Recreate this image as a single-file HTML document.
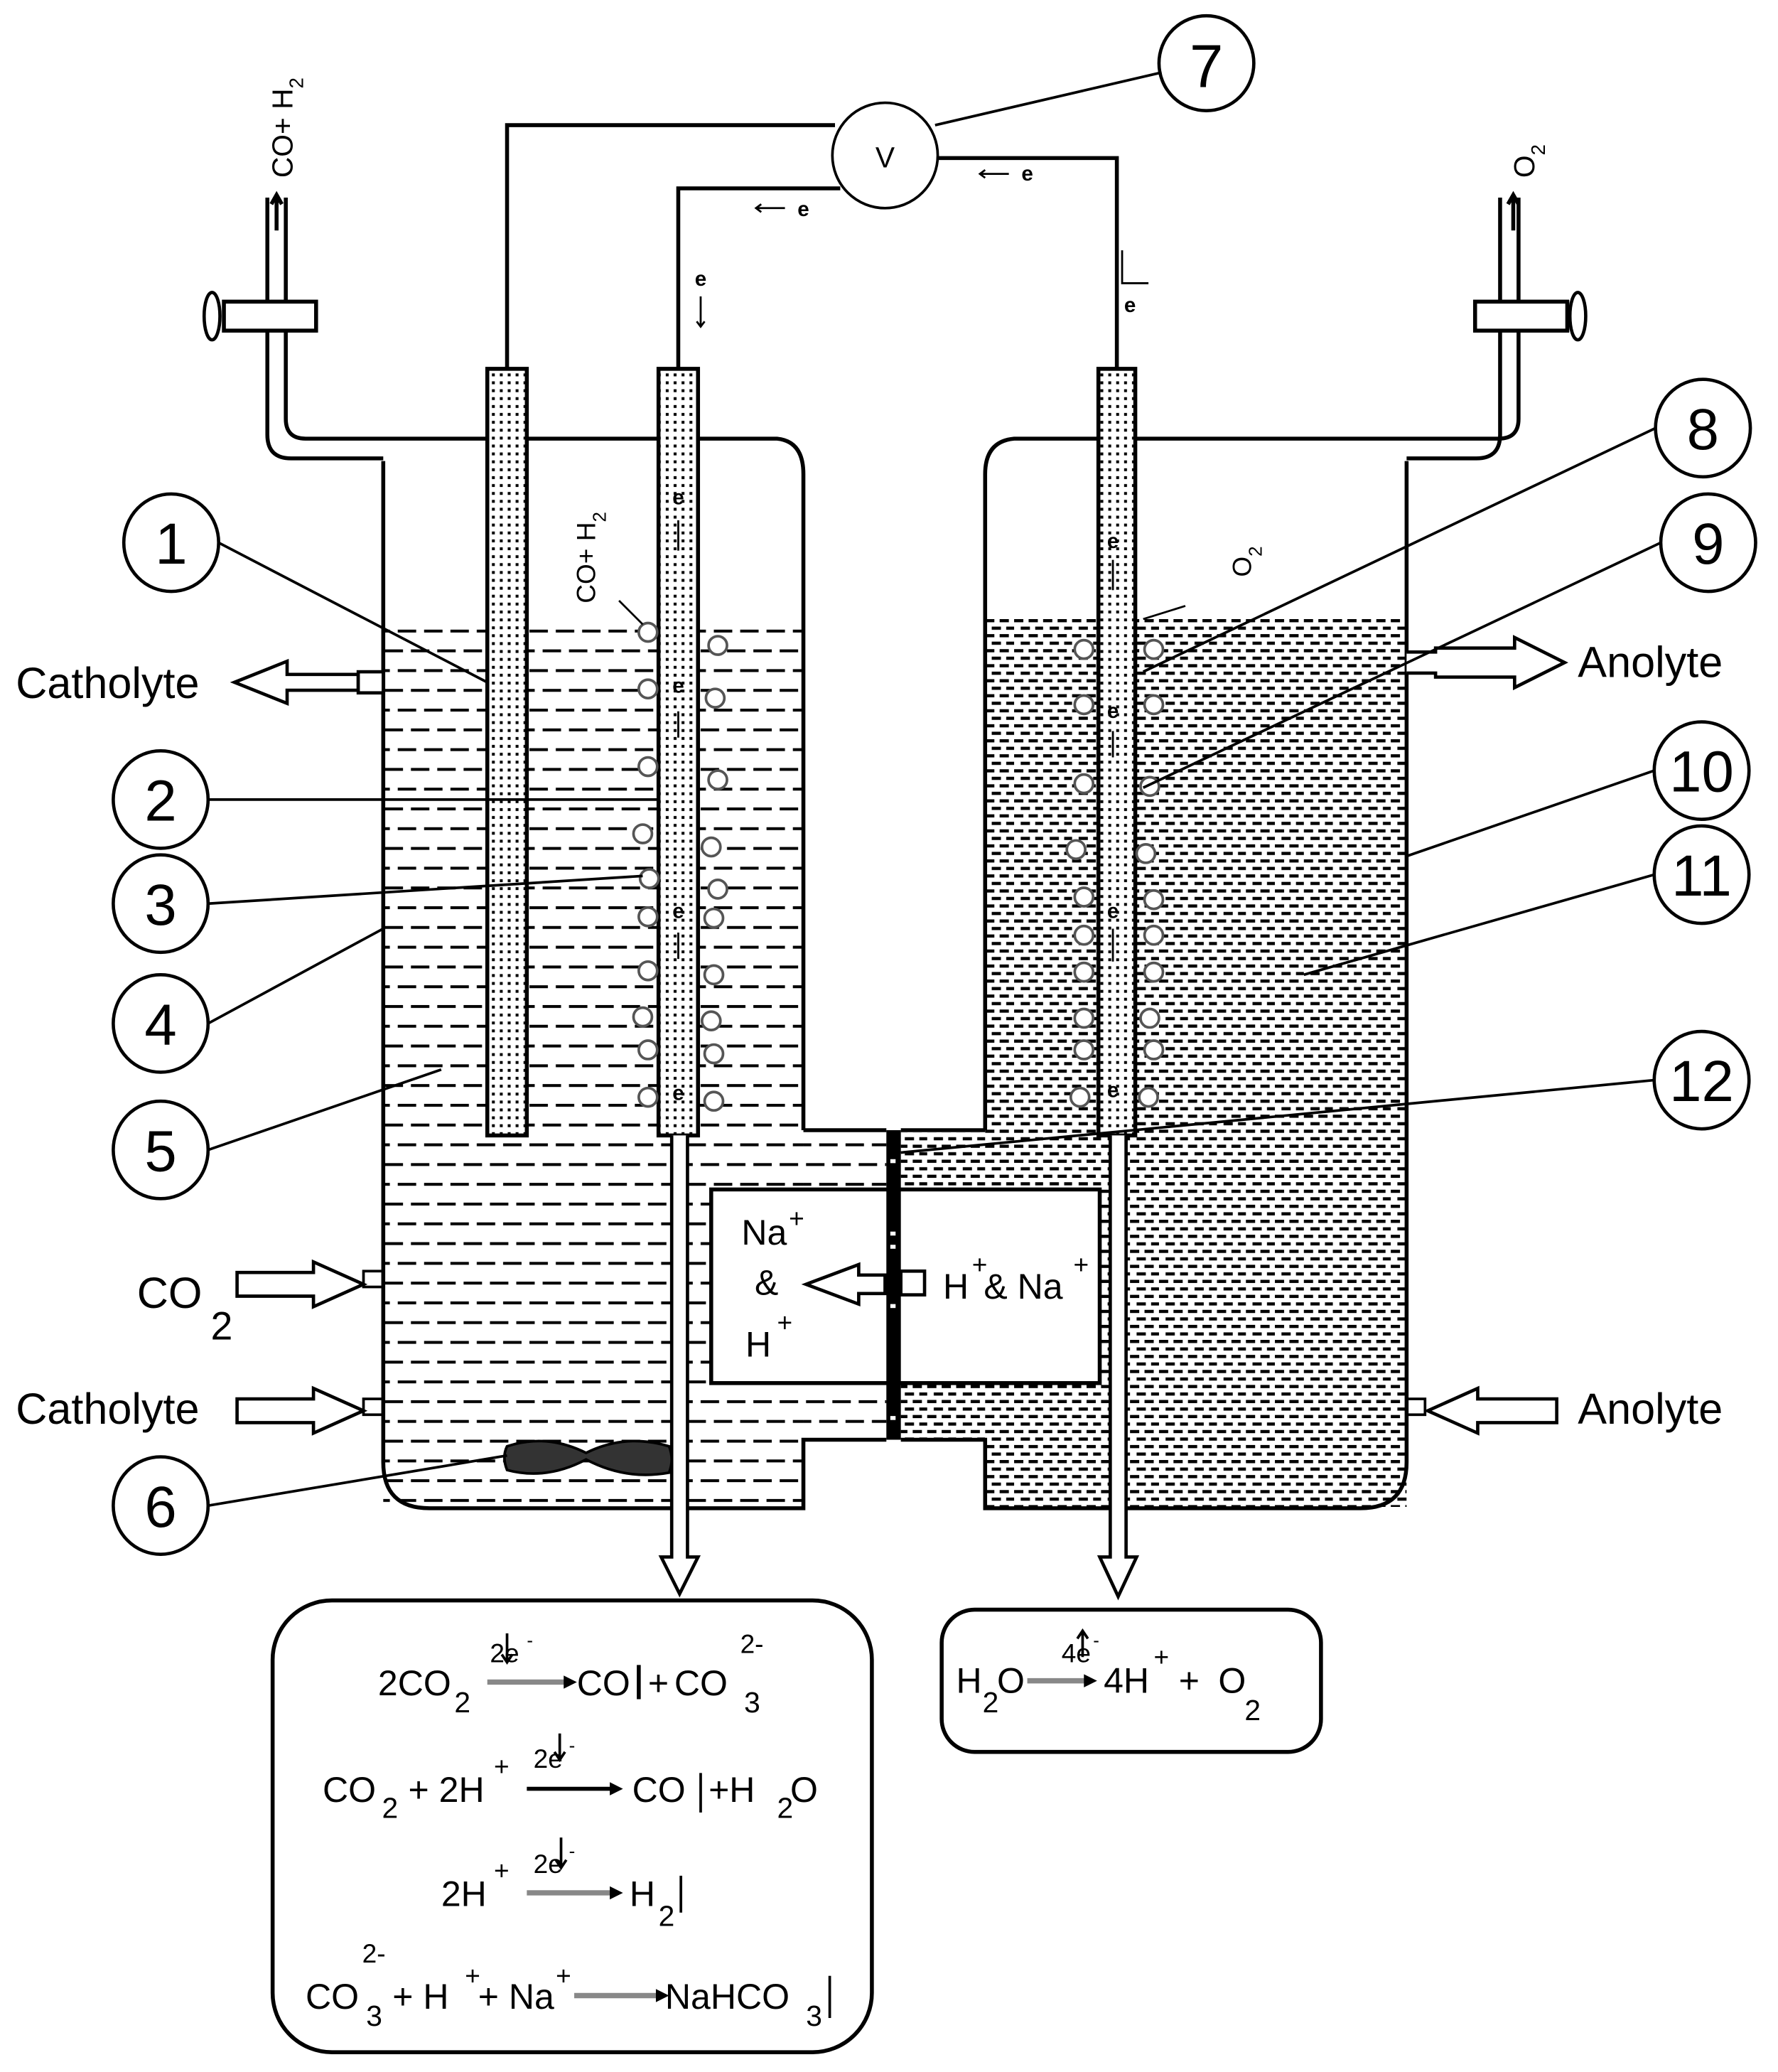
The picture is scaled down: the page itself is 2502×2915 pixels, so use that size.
<!DOCTYPE html>
<html><head><meta charset="utf-8"><style>
html,body{margin:0;padding:0;background:#fff}
svg{display:block}
text{font-family:"Liberation Sans",Arial,sans-serif;fill:#000}
</style></head><body>
<svg width="2502" height="2915" viewBox="0 0 1350 1573" preserveAspectRatio="none" xmlns="http://www.w3.org/2000/svg">
<defs>
<pattern id="cath" x="0" y="478" width="60" height="30" patternUnits="userSpaceOnUse">
<rect x="2" y="0" width="14" height="2.2" fill="#000"/><rect x="22" y="0" width="14" height="2.2" fill="#000"/><rect x="42" y="0" width="14" height="2.2" fill="#000"/>
<rect x="12" y="15" width="14" height="2.2" fill="#000"/><rect x="32" y="15" width="14" height="2.2" fill="#000"/><rect x="52" y="15" width="8" height="2.2" fill="#000"/><rect x="0" y="15" width="6" height="2.2" fill="#000"/>
</pattern>
<pattern id="anol" x="0" y="470" width="22" height="11.4" patternUnits="userSpaceOnUse">
<rect x="0" y="0" width="7" height="2.4" fill="#000"/><rect x="11" y="0" width="7" height="2.4" fill="#000"/>
<rect x="5" y="5.7" width="7" height="2.4" fill="#000"/><rect x="16" y="5.7" width="6" height="2.4" fill="#000"/>
</pattern>
<pattern id="dots" x="0" y="0" width="6" height="6" patternUnits="userSpaceOnUse">
<rect width="6" height="6" fill="#fff"/><rect x="1.5" y="1.5" width="2.2" height="2.2" fill="#000"/>
</pattern>
</defs>

<!-- electrolytes -->
<rect x="291" y="476" width="319" height="666" fill="url(#cath)"/>
<rect x="610" y="860" width="63" height="233" fill="url(#cath)"/>
<rect x="684" y="860" width="64" height="233" fill="url(#anol)"/>
<rect x="748" y="468" width="320" height="676" fill="url(#anol)"/>
<rect x="610" y="1094" width="138" height="52" fill="#fff"/>
<!-- box -->
<rect x="540" y="903" width="295" height="147" fill="#fff" stroke="#000" stroke-width="3"/>

<g fill="none" stroke="#000" stroke-width="3">
<!-- left chamber -->
<path d="M291 350 V1110 Q291 1145 326 1145 H610 V1093 H673"/>
<path d="M610 858 H673"/>
<path d="M217 150 V318 Q217 333 232 333 H590 Q610 335 610 360 V858"/>
<path d="M203 150 V330 Q203 348 221 348 H291"/>
<!-- right chamber -->
<path d="M1068 350 V1110 Q1068 1145 1033 1145 H748 V1093 H684"/>
<path d="M748 858 H684"/>
<path d="M1153 150 V318 Q1153 333 1138 333 H770 Q748 335 748 360 V858"/>
<path d="M1139 150 V330 Q1139 348 1121 348 H1068"/>
<!-- wires -->
<path d="M385 280 V95 H634"/>
<path d="M515 280 V143 H638"/>
<path d="M848 280 V120 H712"/>
<circle cx="672" cy="118" r="40" stroke-width="2"/>
<line x1="710" y1="95" x2="882" y2="55" stroke-width="2"/>
<circle cx="916" cy="48" r="36" stroke-width="2.5"/>
</g>
<text x="672" y="127" font-size="22" text-anchor="middle">V</text>
<text x="916" y="66" font-size="46" text-anchor="middle">7</text>

<!-- valves -->
<rect x="170" y="229" width="70" height="22" fill="#fff" stroke="#000" stroke-width="3"/>
<ellipse cx="161" cy="240" rx="6" ry="18" fill="#fff" stroke="#000" stroke-width="2.5"/>
<rect x="1120" y="229" width="70" height="22" fill="#fff" stroke="#000" stroke-width="3"/>
<ellipse cx="1198" cy="240" rx="6" ry="18" fill="#fff" stroke="#000" stroke-width="2.5"/>

<!-- electrodes -->
<rect x="370" y="280" width="30" height="582" fill="url(#dots)" stroke="#000" stroke-width="3"/>
<rect x="500" y="280" width="30" height="582" fill="url(#dots)" stroke="#000" stroke-width="3"/>
<rect x="834" y="280" width="28" height="582" fill="url(#dots)" stroke="#000" stroke-width="3"/>

<!-- membrane -->
<rect x="673" y="858" width="11" height="235" fill="#000"/>
<g fill="#fff"><rect x="676" y="880" width="4" height="3"/><rect x="676" y="935" width="4" height="3"/><rect x="676" y="945" width="4" height="3"/><rect x="676" y="990" width="4" height="3"/><rect x="676" y="1075" width="4" height="3"/></g>

<!-- bubbles -->
<g fill="#fff" stroke="#555" stroke-width="2">
<circle cx="492" cy="480" r="7"/><circle cx="545" cy="490" r="7"/><circle cx="492" cy="523" r="7"/><circle cx="543" cy="530" r="7"/>
<circle cx="492" cy="582" r="7"/><circle cx="545" cy="592" r="7"/><circle cx="488" cy="633" r="7"/><circle cx="540" cy="643" r="7"/>
<circle cx="493" cy="667" r="7"/><circle cx="545" cy="675" r="7"/><circle cx="492" cy="696" r="7"/><circle cx="542" cy="697" r="7"/>
<circle cx="492" cy="737" r="7"/><circle cx="542" cy="740" r="7"/><circle cx="488" cy="772" r="7"/><circle cx="540" cy="775" r="7"/>
<circle cx="492" cy="797" r="7"/><circle cx="542" cy="800" r="7"/><circle cx="492" cy="833" r="7"/><circle cx="542" cy="836" r="7"/>
<circle cx="823" cy="493" r="7"/><circle cx="876" cy="493" r="7"/><circle cx="823" cy="535" r="7"/><circle cx="876" cy="535" r="7"/>
<circle cx="823" cy="595" r="7"/><circle cx="873" cy="597" r="7"/><circle cx="817" cy="645" r="7"/><circle cx="870" cy="648" r="7"/>
<circle cx="823" cy="681" r="7"/><circle cx="876" cy="683" r="7"/><circle cx="823" cy="710" r="7"/><circle cx="876" cy="710" r="7"/>
<circle cx="823" cy="738" r="7"/><circle cx="876" cy="738" r="7"/><circle cx="823" cy="773" r="7"/><circle cx="873" cy="773" r="7"/>
<circle cx="823" cy="797" r="7"/><circle cx="876" cy="797" r="7"/><circle cx="820" cy="833" r="7"/><circle cx="872" cy="833" r="7"/>
</g>
<!-- electrons on rods -->
<g font-size="16" font-weight="bold" text-anchor="middle">
<text x="515" y="383">e</text><text x="515" y="526">e</text><text x="515" y="697">e</text><text x="515" y="835">e</text>
<text x="845" y="416">e</text><text x="845" y="545">e</text><text x="845" y="697">e</text><text x="845" y="833">e</text>
<text x="610" y="164">e</text><text x="780" y="137">e</text><text x="532" y="217">e</text><text x="858" y="237">e</text>
</g>
<g stroke="#000" stroke-width="1.5" fill="none">
<path d="M596 158 H574 M578 155 L574 158 L578 161"/>
<path d="M766 132 H744 M748 129 L744 132 L748 135"/>
<path d="M532 225 V248 M529 244 L532 248 L535 244"/>
<path d="M852 190 V215 H872"/>
<path d="M515 395 V418 M515 540 V560 M515 708 V728 M845 425 V448 M845 555 V575 M845 705 V730"/>
<path d="M488 474 L470 456 M868 470 L900 460"/>
</g>

<!-- gas labels -->
<text transform="translate(222,135) rotate(-90)" font-size="22">CO+ H<tspan font-size="15" dy="8">2</tspan></text>
<path d="M210 175 V148 M206 155 L210 148 L214 155" stroke="#000" stroke-width="3" fill="none"/>
<text transform="translate(1165,135) rotate(-90)" font-size="22">O<tspan font-size="15" dy="8">2</tspan></text>
<path d="M1149 175 V148 M1145 155 L1149 148 L1153 155" stroke="#000" stroke-width="3" fill="none"/>
<text transform="translate(452,458) rotate(-90)" font-size="20">CO+ H<tspan font-size="14" dy="8">2</tspan></text>
<text transform="translate(950,438) rotate(-90)" font-size="20">O<tspan font-size="14" dy="8">2</tspan></text>

<!-- side arrows -->
<g fill="#fff" stroke="#000" stroke-width="2.5">
<path d="M272 512 H218 V502 L178 518 L218 534 V524 H272 Z"/>
<rect x="272" y="510" width="19" height="16"/>
<path d="M1068 495 H1090 V492 H1150 V484 L1188 503 L1150 522 V514 H1090 V511 H1068"/>
<path d="M180 966 H238 V958 L276 975 L238 992 V984 H180 Z"/>
<path d="M180 1062 H238 V1054 L276 1071 L238 1088 V1080 H180 Z"/>
<path d="M1182 1062 H1122 V1054 L1084 1071 L1122 1088 V1080 H1182 Z"/>
<path d="M672 968 H652 V960 L612 975 L652 990 V982 H672 Z"/>
<rect x="684" y="965" width="18" height="18"/>
<path d="M510 862 V1182 H502 L516 1210 L530 1182 H522 V862" />
<path d="M843 862 V1182 H835 L849 1212 L863 1182 H855 V862" />
</g>
<rect x="276" y="965" width="15" height="12" fill="none" stroke="#000" stroke-width="2"/>
<rect x="276" y="1062" width="15" height="12" fill="none" stroke="#000" stroke-width="2"/>
<rect x="1068" y="1062" width="14" height="12" fill="none" stroke="#000" stroke-width="2"/>

<g font-size="33">
<text x="12" y="530">Catholyte</text>
<text x="1198" y="514">Anolyte</text>
<text x="12" y="1081">Catholyte</text>
<text x="1198" y="1081">Anolyte</text>
<text x="104" y="993">CO</text><text x="160" y="1017" font-size="30">2</text>
</g>
<g font-size="27">
<text x="563" y="945">Na</text><text x="599" y="932" font-size="20">+</text>
<text x="573" y="983">&amp;</text>
<text x="566" y="1030">H</text><text x="590" y="1011" font-size="20">+</text>
<text x="716" y="986">H</text><text x="738" y="967" font-size="20">+</text><text x="747" y="986">&amp; Na</text><text x="815" y="967" font-size="20">+</text>
</g>

<!-- stirrer -->
<path d="M385 1098 Q415 1088 445 1103 Q475 1088 508 1098 Q512 1108 508 1118 Q475 1124 445 1108 Q415 1124 385 1116 Q381 1106 385 1098 Z" fill="#333" stroke="#000" stroke-width="2"/>

<!-- numbered circles -->
<g fill="#fff" stroke="#000" stroke-width="2.5">
<ellipse cx="130" cy="412" rx="36" ry="37"/><ellipse cx="122" cy="607" rx="36" ry="37"/><ellipse cx="122" cy="686" rx="36" ry="37"/>
<ellipse cx="122" cy="777" rx="36" ry="37"/><ellipse cx="122" cy="873" rx="36" ry="37"/><ellipse cx="122" cy="1143" rx="36" ry="37"/>
<ellipse cx="1293" cy="325" rx="36" ry="37"/><ellipse cx="1297" cy="412" rx="36" ry="37"/><ellipse cx="1292" cy="585" rx="36" ry="37"/>
<ellipse cx="1292" cy="664" rx="36" ry="37"/><ellipse cx="1292" cy="820" rx="36" ry="37"/>
</g>
<g stroke="#000" stroke-width="2" fill="none">
<path d="M166 412 L370 518"/><path d="M158 607 H500"/><path d="M158 686 L488 665"/>
<path d="M158 777 L291 705"/><path d="M158 873 L335 812"/><path d="M158 1143 L385 1105"/>
<path d="M1257 325 L868 510"/><path d="M1261 412 L868 598"/><path d="M1256 585 L1068 650"/>
<path d="M1256 664 L990 740"/><path d="M1256 820 L684 875"/>
</g>
<g font-size="44" text-anchor="middle">
<text x="130" y="428">1</text><text x="122" y="623">2</text><text x="122" y="702">3</text><text x="122" y="793">4</text>
<text x="122" y="889">5</text><text x="122" y="1159">6</text><text x="1293" y="341">8</text><text x="1297" y="428">9</text>
<text x="1292" y="601">10</text><text x="1292" y="680">11</text><text x="1292" y="836">12</text>
</g>

<!-- equation boxes -->
<rect x="207" y="1215" width="455" height="343" rx="45" fill="#fff" stroke="#000" stroke-width="3"/>
<rect x="715" y="1222" width="288" height="108" rx="25" fill="#fff" stroke="#000" stroke-width="3"/>

<g font-size="27">
<text x="287" y="1287">2CO</text><text x="345" y="1300" font-size="22">2</text>
<line x1="370" y1="1277" x2="430" y2="1277" stroke="#888" stroke-width="4"/><path d="M428 1272 L438 1277 L428 1282Z"/>
<text x="372" y="1262" font-size="20">2e</text><text x="400" y="1250" font-size="14">-</text>
<text x="438" y="1287">CO</text><line x1="485" y1="1264" x2="485" y2="1290" stroke="#000" stroke-width="3"/>
<text x="492" y="1287">+</text><text x="512" y="1287">CO</text><text x="565" y="1300" font-size="22">3</text><text x="562" y="1255" font-size="20">2-</text>

<text x="245" y="1368">CO</text><text x="290" y="1380" font-size="22">2</text><text x="310" y="1368">+ 2H</text><text x="375" y="1348" font-size="20">+</text>
<line x1="400" y1="1358" x2="465" y2="1358" stroke="#000" stroke-width="3"/><path d="M463 1353 L473 1358 L463 1363Z"/>
<text x="405" y="1342" font-size="20">2e</text><text x="432" y="1330" font-size="14">-</text>
<text x="480" y="1368">CO</text><line x1="532" y1="1346" x2="532" y2="1376" stroke="#000" stroke-width="2"/>
<text x="538" y="1368">+H</text><text x="590" y="1380" font-size="22">2</text><text x="600" y="1368">O</text>

<text x="335" y="1447">2H</text><text x="375" y="1427" font-size="20">+</text>
<line x1="400" y1="1437" x2="465" y2="1437" stroke="#888" stroke-width="4"/><path d="M463 1432 L473 1437 L463 1442Z"/>
<text x="405" y="1422" font-size="20">2e</text><text x="432" y="1410" font-size="14">-</text>
<text x="478" y="1447">H</text><text x="500" y="1462" font-size="22">2</text><line x1="517" y1="1424" x2="517" y2="1452" stroke="#000" stroke-width="2"/>

<text x="232" y="1525">CO</text><text x="278" y="1538" font-size="22">3</text><text x="275" y="1490" font-size="20">2-</text>
<text x="298" y="1525">+ H</text><text x="353" y="1507" font-size="20">+</text><text x="363" y="1525">+ Na</text><text x="422" y="1507" font-size="20">+</text>
<line x1="436" y1="1515" x2="500" y2="1515" stroke="#888" stroke-width="4"/><path d="M498 1510 L508 1515 L498 1520Z"/>
<text x="505" y="1525">NaHCO</text><text x="612" y="1538" font-size="22">3</text><line x1="630" y1="1500" x2="630" y2="1532" stroke="#000" stroke-width="2"/>

<text x="726" y="1285">H</text><text x="746" y="1300" font-size="22">2</text><text x="757" y="1285">O</text>
<line x1="780" y1="1276" x2="825" y2="1276" stroke="#888" stroke-width="4"/><path d="M823 1271 L833 1276 L823 1281Z"/>
<text x="806" y="1262" font-size="20">4e</text><text x="830" y="1250" font-size="14">-</text>
<text x="838" y="1285">4H</text><text x="876" y="1265" font-size="20">+</text><text x="895" y="1285">+</text><text x="925" y="1285">O</text><text x="945" y="1306" font-size="22">2</text>
</g>
<g stroke="#000" stroke-width="2" fill="none">
<path d="M385 1240 V1262 M381 1256 L385 1262 L389 1256"/>
<path d="M425 1316 V1336 M421 1330 L425 1336 L429 1330"/>
<path d="M426 1395 V1418 M422 1412 L426 1418 L430 1412"/>
<path d="M822 1258 V1238 M818 1244 L822 1238 L826 1244"/>
</g>
</svg>
</body></html>
